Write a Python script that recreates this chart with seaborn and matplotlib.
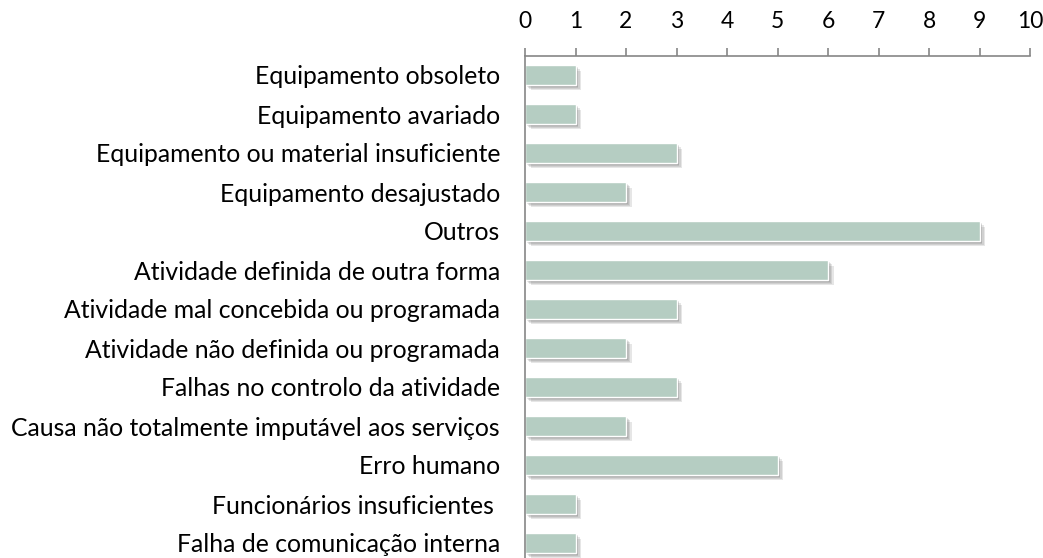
import matplotlib
matplotlib.use("Agg")
import matplotlib.pyplot as plt
import matplotlib.patheffects as pe
import seaborn as sns
import pandas as pd
import numpy as np

# data
causes = [
    "Equipamento obsoleto",
    "Equipamento avariado",
    "Equipamento ou material insuficiente",
    "Equipamento desajustado",
    "Outros",
    "Atividade definida de outra forma",
    "Atividade mal concebida ou programada",
    "Atividade não definida ou programada",
    "Falhas no controlo da atividade",
    "Causa não totalmente imputável aos serviços",
    "Erro humano",
    "Funcionários insuficientes ",
    "Falha de comunicação interna",
]
counts = [1, 1, 3, 2, 9, 6, 3, 2, 3, 2, 5, 1, 1]
x_ticks = list(range(0, 11))

df = pd.DataFrame({"cause": causes, "count": counts})

sns.set_style("white")
plt.rcParams["font.family"] = ["Lato", "DejaVu Sans"]

fig = plt.figure(figsize=(10.43, 5.58), dpi=100)
ax = fig.add_axes([525 / 1043, 1 - 562.5 / 558, 505 / 1043, 507 / 558])

sns.barplot(data=df, x="count", y="cause", color="#b5cdc2", saturation=1,
            width=0.5, ax=ax)
# soft drop shadow like the original office chart
shadow = [pe.SimplePatchShadow(offset=(k, -k), shadow_rgbFace="#404040", alpha=0.13)
          for k in (4, 3, 2, 1.5)]
for p in ax.patches:
    p.set_path_effects(shadow + [pe.Normal()])

ax.set_xlim(0, 10)
ax.set_ylim(len(causes) - 0.5, -0.5)
ax.set_xticks(x_ticks)
ax.xaxis.tick_top()
ax.set_xlabel("")
ax.set_ylabel("")

axis_col = "#868686"
for side in ["right", "bottom"]:
    ax.spines[side].set_visible(False)
for side in ["top", "left"]:
    ax.spines[side].set_color(axis_col)
    ax.spines[side].set_linewidth(1.2)

ax.tick_params(axis="x", direction="out", length=6, width=1.2, color=axis_col,
               pad=11, labelsize=16.5, labelcolor="black")
ax.tick_params(axis="y", length=0, pad=18, labelsize=17.8, labelcolor="black")
ax.set_yticks(np.arange(-0.5, len(causes), 1), minor=True)
ax.tick_params(axis="y", which="minor", direction="inout", length=11, width=1.2,
               color=axis_col)

fig.savefig("out.png", dpi=100)
